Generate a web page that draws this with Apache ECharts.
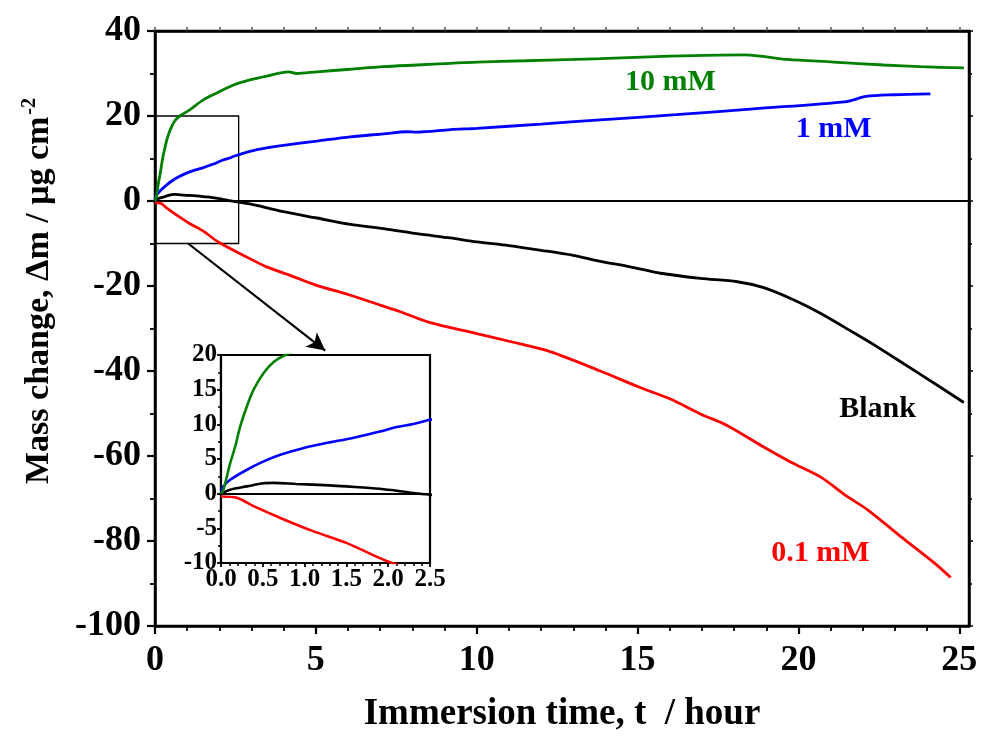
<!DOCTYPE html>
<html>
<head>
<meta charset="utf-8">
<script src="https://cdn.jsdelivr.net/npm/echarts@6/dist/echarts.min.js"></script>
<style>html,body{margin:0;padding:0;background:#fff;}#c{width:981px;height:738px;}</style>
</head>
<body>
<div id="c"></div>
<script>
// ---- data ----
const tBlank = [0, 0.11, 0.31, 0.51, 0.63, 0.9, 1.3, 1.5, 1.9, 2.3, 2.5, 2.95, 3.99, 5.03, 6.07, 7.1, 8.14, 9.18, 10, 11, 12, 13, 13.84, 14.77, 15.71, 16.95, 18.1, 18.92, 19.86, 20.68, 21.72, 22.34, 23.79, 25.14];
const vBlank = [0, 0.58, 1.05, 1.5, 1.55, 1.4, 1.2, 1.05, 0.7, 0.1, -0.15, -0.7, -2.5, -4.0, -5.5, -6.5, -7.7, -8.7, -9.6, -10.5, -11.6, -12.8, -14.2, -15.5, -17.0, -18.2, -19.0, -20.4, -23.3, -26.4, -31.0, -33.8, -40.8, -47.4];

const t01 = [0, 0.19, 0.39, 0.71, 1.1, 1.5, 1.98, 2.75, 3.47, 4.2, 5.0, 6.0, 7.0, 7.6, 8.5, 10, 11, 12.3, 13.84, 15.08, 16.02, 16.95, 17.78, 18.92, 19.75, 20.68, 21.51, 22.14, 23.17, 24.21, 24.73];
const v01 = [-0.4, -0.6, -1.8, -3.5, -5.4, -7.1, -9.7, -12.8, -15.5, -17.5, -19.8, -22.0, -24.5, -26.0, -28.5, -31.2, -33.0, -35.5, -40.0, -43.9, -46.6, -50.1, -52.8, -57.9, -61.4, -64.9, -69.5, -72.6, -78.9, -85.1, -88.6];

const t1 = [0, 0.03, 0.11, 0.31, 0.51, 0.71, 0.98, 1.3, 1.5, 1.74, 1.9, 2.1, 2.3, 2.5, 2.95, 3.47, 3.99, 5.03, 6.07, 7.1, 7.83, 8.14, 9.18, 10, 12, 13.84, 16.2, 18.6, 21.5, 22.1, 22.97, 24.1];
const v1 = [0.3, 1.05, 2.0, 3.45, 4.65, 5.6, 6.55, 7.4, 7.85, 8.5, 8.95, 9.6, 10.05, 10.65, 11.7, 12.5, 13.1, 14.1, 15.1, 15.8, 16.3, 16.2, 16.8, 17.1, 18.1, 19.1, 20.3, 21.7, 23.4, 24.6, 25.0, 25.2];

const t10 = [0, 0.03, 0.11, 0.17, 0.23, 0.31, 0.39, 0.51, 0.63, 0.77, 1.09, 1.5, 1.92, 2.44, 2.95, 3.47, 4.15, 4.4, 5.03, 6.07, 7.1, 8.14, 9.18, 10, 11.5, 13, 13.84, 16.02, 18.3, 18.82, 19.65, 21.1, 22.65, 23.8, 25.14];
const v10 = [0, 0.6, 4.4, 6.8, 9.7, 12.6, 15.0, 17.4, 19.0, 20.0, 21.5, 23.8, 25.4, 27.3, 28.5, 29.4, 30.4, 30.0, 30.4, 31.0, 31.6, 32.0, 32.4, 32.7, 33.0, 33.3, 33.5, 34.1, 34.4, 34.1, 33.3, 32.7, 32.0, 31.6, 31.3];

const xMajorTicks = [0, 5, 10, 15, 20, 25];
const xMinorTicks = [1, 2, 3, 4, 6, 7, 8, 9, 11, 12, 13, 14, 16, 17, 18, 19, 21, 22, 23, 24];

const seriesNames = ['Blank', '0.1 mM', '1 mM', '10 mM'];
const seriesColors = ['#000000', '#ff0000', '#0000ff', '#008000'];
// label anchor positions in data coordinates
const labelPos = [[22.46, -49], [20.68, -82.8], [21.09, 16.8], [16.02, 28.0]];

// ---- chart ----
const zip = (t, v) => t.map((x, i) => [x, v[i]]);
const allT = [tBlank, t01, t1, t10];
const allV = [vBlank, v01, v1, v10];
const FONT = '"Liberation Serif", "Times New Roman", serif';

const chart = echarts.init(document.getElementById('c'), null, {renderer: 'canvas'});

const axisLineStyle = {color: '#000', width: 2.5};

const mainSeries = seriesNames.map((name, i) => {
  const s = {
    name: name,
    type: 'line',
    xAxisIndex: 0,
    yAxisIndex: 0,
    data: zip(allT[i], allV[i]),
    showSymbol: false,
    smooth: 0.3,
    lineStyle: {color: seriesColors[i], width: 2.8},
    itemStyle: {color: seriesColors[i]},
    z: 5,
    markPoint: {
      symbol: 'circle',
      symbolSize: 1,
      itemStyle: {color: 'rgba(0,0,0,0)'},
      label: {
        show: true, position: 'inside', formatter: name,
        fontFamily: FONT, fontWeight: 'bold', fontSize: 30, color: seriesColors[i]
      },
      data: [{coord: labelPos[i]}]
    }
  };
  if (i === 0) {
    s.markLine = {
      silent: true,
      symbol: ['none', 'none'],
      label: {show: false},
      lineStyle: {color: '#000', width: 2.2, type: 'solid'},
      data: [
        {yAxis: 0},
        [{coord: [1.03, -10], symbol: 'none'}, {coord: [5.29, -35.2], symbol: 'arrow', symbolSize: [14, 18]}]
      ]
    };
    s.markArea = {
      silent: true,
      itemStyle: {color: 'rgba(0,0,0,0)', borderColor: '#000', borderWidth: 1.3},
      data: [[{coord: [0, 20]}, {coord: [2.6, -10]}]]
    };
  }
  return s;
});

const insetSeries = seriesNames.map((name, i) => {
  const s = {
    name: name + ' inset',
    type: 'line',
    xAxisIndex: 3,
    yAxisIndex: 2,
    data: zip(allT[i], allV[i]),
    showSymbol: false,
    smooth: 0.3,
    clip: true,
    lineStyle: {color: seriesColors[i], width: 2.6},
    itemStyle: {color: seriesColors[i]},
    z: 6
  };
  if (i === 0) {
    s.markLine = {
      silent: true, symbol: ['none', 'none'], label: {show: false},
      lineStyle: {color: '#000', width: 2, type: 'solid'},
      data: [{yAxis: 0}]
    };
  }
  return s;
});

const option = {
  backgroundColor: '#fff',
  animation: false,
  grid: [
    {left: 155, top: 31, width: 814, height: 600, show: true, borderColor: '#000', borderWidth: 2.5, backgroundColor: 'rgba(0,0,0,0)'},
    {left: 221, top: 355, width: 209, height: 208, show: true, borderColor: '#000', borderWidth: 2.2, backgroundColor: '#fff', z: 3}
  ],
  xAxis: [
    { // 0 main bottom (labels + major ticks)
      type: 'value', gridIndex: 0, position: 'bottom', min: 0, max: 25.3,
      axisLine: {show: true, onZero: false, lineStyle: axisLineStyle},
      axisTick: {show: true, inside: false, length: 8, lineStyle: {width: 2.2, color: '#000'}, customValues: xMajorTicks},
      axisLabel: {show: true, customValues: xMajorTicks, margin: 17, fontFamily: FONT, fontWeight: 'bold', fontSize: 36, color: '#000'},
      splitLine: {show: false},
      name: 'Immersion time, t  / hour', nameLocation: 'middle', nameGap: 70,
      nameTextStyle: {fontFamily: FONT, fontWeight: 'bold', fontSize: 37, color: '#000'}
    },
    { // 1 main bottom minor ticks
      type: 'value', gridIndex: 0, position: 'bottom', min: 0, max: 25.3,
      axisLine: {show: false, onZero: false},
      axisTick: {show: true, inside: false, length: 5, lineStyle: {width: 1.8, color: '#000'}, customValues: xMinorTicks},
      axisLabel: {show: false}, splitLine: {show: false}
    },
    { // 2 main top
      type: 'value', gridIndex: 0, position: 'top', min: 0, max: 25.3,
      axisLine: {show: true, onZero: false, lineStyle: axisLineStyle},
      axisTick: {show: true, inside: false, length: 4, lineStyle: {width: 1.5, color: '#555'}, customValues: xMajorTicks.concat(xMinorTicks)},
      axisLabel: {show: false}, splitLine: {show: false}
    },
    { // 3 inset bottom
      type: 'value', gridIndex: 1, position: 'bottom', min: 0, max: 2.5, interval: 0.5,
      axisLine: {show: true, onZero: false, lineStyle: {color: '#000', width: 2.2}},
      axisTick: {show: true, inside: false, length: 4, lineStyle: {width: 1.8, color: '#000'}},
      minorTick: {show: true, splitNumber: 5, length: 3, lineStyle: {color: '#000', width: 1.5}},
      axisLabel: {show: true, margin: 4, fontFamily: FONT, fontWeight: 'bold', fontSize: 25, color: '#000', formatter: v => v.toFixed(1)},
      splitLine: {show: false}
    }
  ],
  yAxis: [
    { // 0 main left
      type: 'value', gridIndex: 0, position: 'left', min: -100, max: 40, interval: 20,
      axisLine: {show: true, onZero: false, lineStyle: axisLineStyle},
      axisTick: {show: true, inside: false, length: 8, lineStyle: {width: 2.2, color: '#000'}},
      minorTick: {show: true, splitNumber: 2, length: 5, lineStyle: {color: '#000', width: 1.8}},
      axisLabel: {show: true, margin: 14, fontFamily: FONT, fontWeight: 'bold', fontSize: 36, color: '#000'},
      splitLine: {show: false}
    },
    { // 1 main right
      type: 'value', gridIndex: 0, position: 'right', min: -100, max: 40, interval: 20,
      axisLine: {show: true, onZero: false, lineStyle: axisLineStyle},
      axisTick: {show: true, inside: false, length: 4, lineStyle: {width: 1.5, color: '#000'}},
      minorTick: {show: true, splitNumber: 2, length: 3, lineStyle: {color: '#000', width: 1.5}},
      axisLabel: {show: false}, splitLine: {show: false}
    },
    { // 2 inset left
      type: 'value', gridIndex: 1, position: 'left', min: -10, max: 20, interval: 5,
      axisLine: {show: true, onZero: false, lineStyle: {color: '#000', width: 2.2}},
      axisTick: {show: true, inside: false, length: 4, lineStyle: {width: 1.8, color: '#000'}},
      minorTick: {show: true, splitNumber: 2, length: 3, lineStyle: {color: '#000', width: 1.5}},
      axisLabel: {show: true, margin: 4, fontFamily: FONT, fontWeight: 'bold', fontSize: 25, color: '#000'},
      splitLine: {show: false}
    }
  ],
  graphic: [
    {
      type: 'text', x: 39, y: 291, rotation: Math.PI / 2,
      style: {
        text: 'Mass change, \u0394m / \u03bcg cm{sup|-2}',
        fontFamily: FONT, fontWeight: 'bold', fontSize: 34, fill: '#000',
        align: 'center', verticalAlign: 'middle',
        rich: {sup: {fontFamily: FONT, fontWeight: 'bold', fontSize: 20, fill: '#000', verticalAlign: 'top', padding: [0, 0, 18, 2]}}
      },
      z: 100
    }
  ],
  series: mainSeries.concat(insetSeries)
};

chart.setOption(option);
</script>
</body>
</html>
